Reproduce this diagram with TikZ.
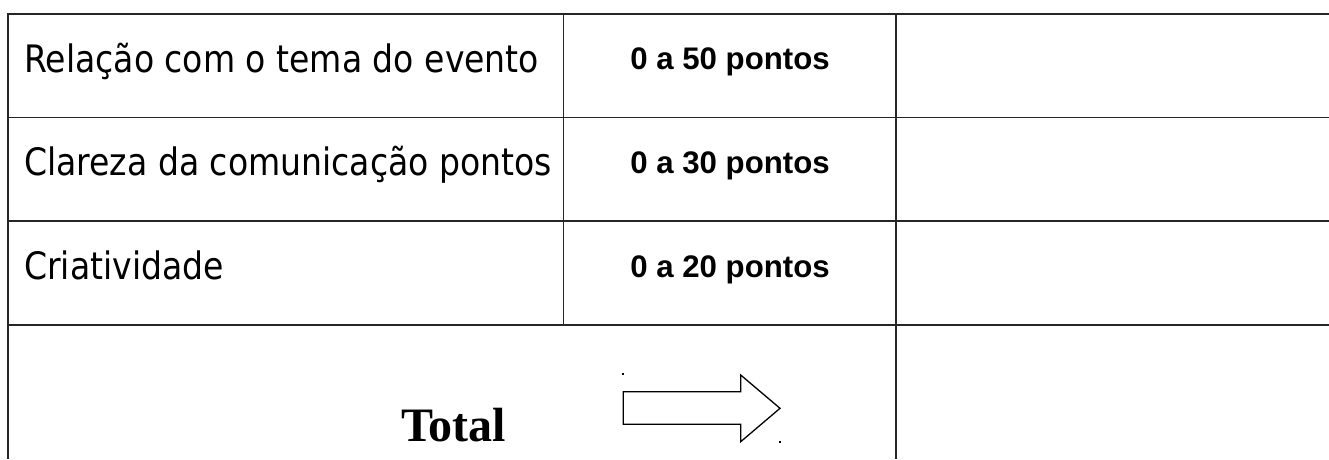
\documentclass[tikz,border=0pt]{standalone}
\usepackage{fontspec}
\setmainfont{Liberation Serif}
\newfontfamily\tahfont[FakeStretch=0.875]{DejaVu Sans}
\newfontfamily\arialfont{Liberation Sans}
\begin{document}
\begin{tikzpicture}[x=1pt,y=-1pt,
  gridline/.style={line width=1.4pt, draw=black!85},
  crit/.style={anchor=base west, inner sep=0pt, font=\tahfont\fontsize{37.8}{40}\selectfont},
  pts/.style={anchor=base, inner sep=0pt, font=\arialfont\bfseries\fontsize{31.2}{34}\selectfont},
  arrowshape/.style={line width=1.3pt, draw=black, fill=white}]
\useasboundingbox (0,0) rectangle (1329,459);
% grid coordinates
\coordinate (tl) at (8,14);
\coordinate (tr) at (1329,14);
\coordinate (bl) at (8,459);
\coordinate (r1l) at (8,117.3);  \coordinate (r1r) at (1329,117.3);
\coordinate (r2l) at (8,221);    \coordinate (r2r) at (1329,221);
\coordinate (r3l) at (8,325);    \coordinate (r3r) at (1329,325);
\coordinate (v1t) at (563.3,14); \coordinate (v1b) at (563.3,325);
\coordinate (v2t) at (896,14);   \coordinate (v2b) at (896,459);
\draw[gridline] (bl) -- (tl) -- (tr);
\draw[gridline] (r1l) -- (r1r);
\draw[gridline] (r2l) -- (r2r);
\draw[gridline] (r3l) -- (r3r);
\draw[gridline] (v1t) -- (v1b);
\draw[gridline] (v2t) -- (v2b);
% texts
\node[crit] (c1) at (24,72) {Relação com o tema do evento};
\node[crit] (c2) at (24,175.7) {Clareza da comunicação pontos};
\node[crit] (c3) at (24,279.3) {Criatividade};
\node[pts] (p1) at (730,69.5) {0 a 50 pontos};
\node[pts] (p2) at (730,173.2) {0 a 30 pontos};
\node[pts] (p3) at (730,277) {0 a 20 pontos};
\node[anchor=base, inner sep=0pt, font=\bfseries\fontsize{48}{50}\selectfont] (tot) at (453.5,441) {Total};
% arrow
\coordinate (a1) at (623.3,391.7);
\coordinate (a2) at (740.7,391.7);
\coordinate (a3) at (740.7,375);
\coordinate (a4) at (780,408.3);
\coordinate (a5) at (740.7,441.7);
\coordinate (a6) at (740.7,424.3);
\coordinate (a7) at (623.3,424.3);
\draw[arrowshape] (a1) -- (a2) -- (a3) -- (a4) -- (a5) -- (a6) -- (a7) -- cycle;
\fill (622.3,373) rectangle (624.3,375.3);
\fill (779,441) rectangle (781,443.3);
\end{tikzpicture}
\end{document}
